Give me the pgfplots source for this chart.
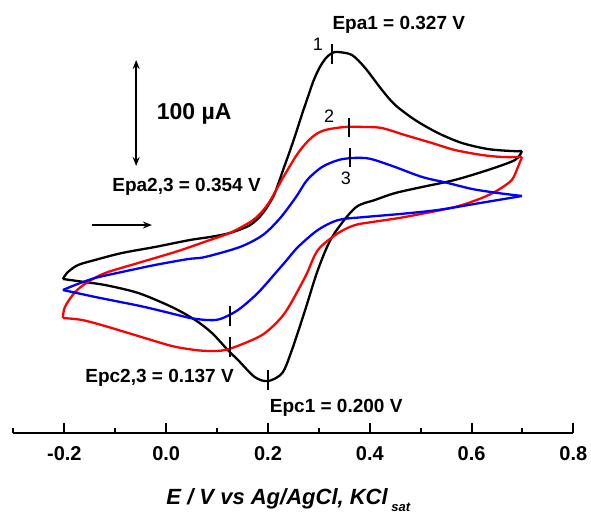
\documentclass[border=0pt]{standalone}
\usepackage{fontspec}
\setmainfont{Liberation Sans}
\usepackage{pgfplots}
\pgfplotsset{compat=1.18}
\usetikzlibrary{arrows.meta}

\pgfplotstableread{
x y
-0.203 -17.9
-0.193 -11.3
-0.173 -4.7
-0.140 0.0
-0.087 6.6
-0.022 12.3
0.047 18.9
0.086 21.7
0.125 25.5
0.165 33.0
0.190 44.3
0.210 59.4
0.220 71.7
0.231 86.8
0.243 102.8
0.255 119.8
0.267 137.7
0.279 154.7
0.290 169.8
0.302 182.1
0.314 190.6
0.326 195.3
0.338 196.2
0.365 193.4
0.391 181.1
0.424 160.4
0.450 146.2
0.489 132.1
0.534 119.8
0.581 110.4
0.632 104.7
0.679 102.8
0.699 102.8
}\blackA
\pgfplotstableread{
x y
0.699 102.8
0.685 94.3
0.632 84.9
0.567 75.5
0.503 68.9
0.450 63.2
0.410 56.6
0.371 49.1
0.326 21.7
0.298 -9.4
0.273 -47.2
0.247 -84.9
0.228 -106.6
0.200 -114.2
0.174 -110.4
0.141 -94.3
0.121 -84.9
0.090 -68.9
0.057 -56.6
0.011 -44.3
-0.055 -31.1
-0.120 -23.6
-0.160 -20.8
-0.203 -17.9
}\blackC
\pgfplotstableread{
x y
-0.203 -54.7
-0.199 -44.3
-0.179 -30.2
-0.154 -20.8
-0.120 -12.3
-0.055 -2.8
0.011 6.6
0.047 12.3
0.086 18.9
0.125 25.5
0.165 35.8
0.184 43.4
0.200 52.8
0.214 64.2
0.228 76.4
0.243 88.7
0.259 100.9
0.275 110.4
0.292 117.9
0.312 122.6
0.351 125.5
0.391 125.5
0.424 124.5
0.469 117.9
0.522 110.4
0.567 103.8
0.620 99.1
0.660 97.2
0.699 97.2
}\redA
\pgfplotstableread{
x y
0.699 97.2
0.691 87.7
0.679 75.5
0.652 66.0
0.620 58.5
0.567 50.0
0.469 40.6
0.404 35.8
0.371 33.0
0.338 25.5
0.298 9.4
0.273 -16.0
0.233 -50.0
0.194 -68.9
0.155 -78.3
0.116 -84.9
0.086 -85.8
0.057 -84.9
0.011 -81.1
-0.055 -71.7
-0.120 -62.3
-0.165 -56.6
-0.203 -54.7
}\redC
\pgfplotstableread{
x y
-0.203 -28.3
-0.179 -23.6
-0.140 -17.0
-0.087 -11.3
-0.022 -4.7
0.043 0.9
0.076 2.8
0.145 12.3
0.190 23.6
0.224 39.6
0.255 59.4
0.277 75.5
0.306 87.7
0.338 94.3
0.365 96.2
0.391 96.2
0.410 94.3
0.450 87.7
0.503 78.3
0.554 72.6
0.601 67.0
0.652 63.2
0.699 60.4
}\blueA
\pgfplotstableread{
x y
0.699 60.4
0.617 53.8
0.534 47.2
0.459 43.4
0.391 40.6
0.338 37.7
0.298 28.3
0.259 12.3
0.237 0.0
0.220 -9.4
0.180 -31.1
0.141 -47.2
0.106 -55.7
0.080 -56.6
0.047 -54.7
0.007 -50.0
-0.051 -43.4
-0.130 -35.8
-0.203 -28.3
}\blueC

\begin{document}
\begin{tikzpicture}
\begin{axis}[
  x=509pt, y=1.06pt,
  xmin=-0.3, xmax=0.8, ymin=-163.2, ymax=245,
  axis x line=bottom, axis y line=none,
  x axis line style={-, line width=2.2pt},
  xtick={-0.2,0,0.2,0.4,0.6,0.8},
  xticklabels={-0.2,0.0,0.2,0.4,0.6,0.8},
  minor xtick={-0.3,-0.1,0.1,0.3,0.5,0.7},
  tick align=inside,
  major tick length=10pt, minor tick length=5pt,
  tick style={line width=2pt, black},
  xticklabel style={font=\fontsize{20}{20}\selectfont\bfseries, anchor=base, yshift=-27pt},
  xlabel={\bfseries\itshape E / V vs Ag/AgCl, KCl\,\raisebox{-0.6ex}{\fontsize{13}{13}\selectfont sat}},
  xlabel style={font=\fontsize{22}{22}\selectfont, at={(axis cs:0.24,-231.1)}, anchor=base},
  clip=false,
]
\addplot[black, line width=2.3pt, smooth, tension=0.5, mark=none] table {\blackA};
\addplot[black, line width=2.3pt, smooth, tension=0.5, mark=none] table {\blackC};
\addplot[red, line width=2.3pt, smooth, tension=0.5, mark=none] table {\redA};
\addplot[red, line width=2.3pt, smooth, tension=0.5, mark=none] table {\redC};
\addplot[blue, line width=2.3pt, smooth, tension=0.5, mark=none] table {\blueA};
\addplot[blue, line width=2.3pt, smooth, tension=0.5, mark=none] table {\blueC};
% peak position markers
\addplot[black, line width=2.1pt, mark=none] coordinates {(0.325,185.0) (0.325,203.6)};
\addplot[black, line width=2.1pt, mark=none] coordinates {(0.359,115.7) (0.359,134.3)};
\addplot[black, line width=2.1pt, mark=none] coordinates {(0.361,87.4) (0.361,106.0)};
\addplot[black, line width=2.1pt, mark=none] coordinates {(0.125,-62.1) (0.125,-43.5)};
\addplot[black, line width=2.1pt, mark=none] coordinates {(0.125,-91.4) (0.125,-72.8)};
\addplot[black, line width=2.1pt, mark=none] coordinates {(0.200,-122.5) (0.200,-103.9)};
% annotations
\node[font=\fontsize{19}{19}\selectfont\bfseries, anchor=base] at (axis cs:0.457,217.0) {Epa1 = 0.327 V};
\node[font=\fontsize{18}{18}\selectfont, anchor=base] at (axis cs:0.298,198.1) {1};
\node[font=\fontsize{18}{18}\selectfont, anchor=base] at (axis cs:0.320,130.2) {2};
\node[font=\fontsize{18}{18}\selectfont, anchor=base] at (axis cs:0.353,70.8) {3};
\node[font=\fontsize{19}{19}\selectfont\bfseries, anchor=base] at (axis cs:0.040,64.2) {Epa2,3 = 0.354 V};
\node[font=\fontsize{19}{19}\selectfont\bfseries, anchor=base] at (axis cs:-0.013,-115.1) {Epc2,3 = 0.137 V};
\node[font=\fontsize{19}{19}\selectfont\bfseries, anchor=base] at (axis cs:0.334,-143.4) {Epc1 = 0.200 V};
\node[font=\fontsize{23}{23}\selectfont\bfseries, anchor=base] at (axis cs:0.055,132.1) {100 µA};
\draw[{Stealth[length=9pt,width=7pt]}-{Stealth[length=9pt,width=7pt]}, line width=2pt] (axis cs:-0.059,188.7) -- (axis cs:-0.059,88.7);
\draw[-{Stealth[length=9pt,width=7pt]}, line width=2pt] (axis cs:-0.146,33.0) -- (axis cs:-0.028,33.0);
\coordinate (BL) at (axis cs:-0.3265,-240.6);
\coordinate (TR) at (axis cs:0.8346,245.3);
\end{axis}
\pgfresetboundingbox
\useasboundingbox (BL) rectangle (TR);
\end{tikzpicture}
\end{document}
